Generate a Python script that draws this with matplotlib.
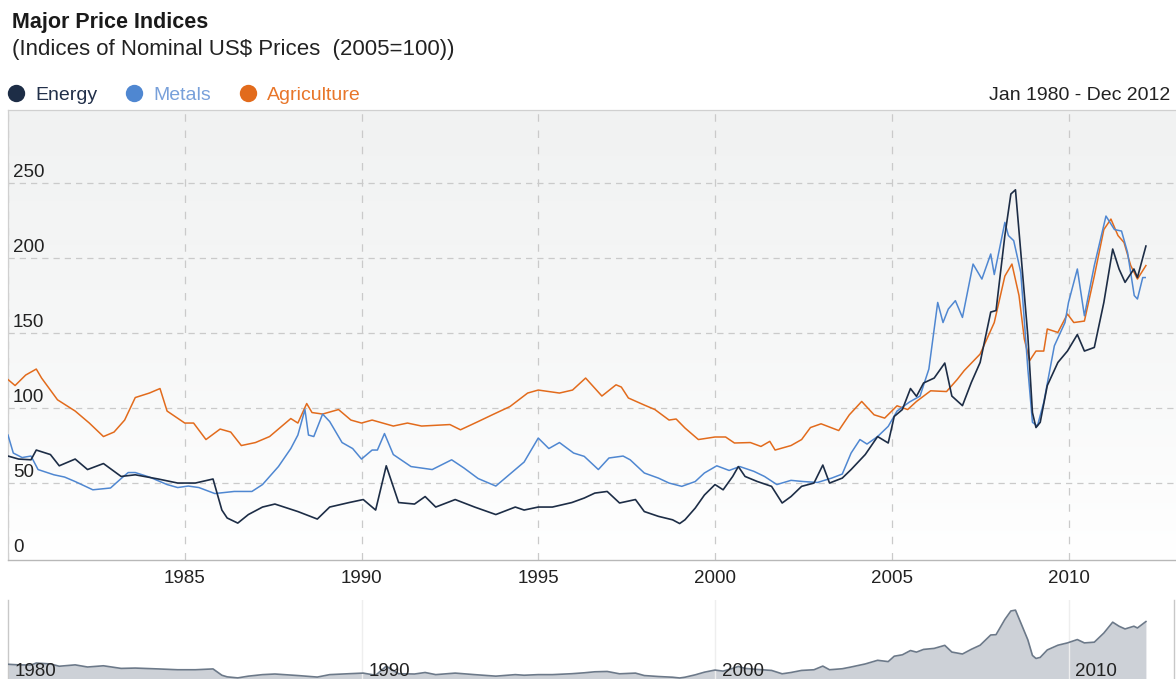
import numpy as np
import matplotlib
matplotlib.use('Agg')
import matplotlib.pyplot as plt
from matplotlib.colors import LinearSegmentedColormap

plt.rcParams['font.family'] = ['Liberation Sans', 'DejaVu Sans']

# Index values (2005=100), time as decimal year
energy_t = [1980.0, 1980.3, 1980.65, 1980.8, 1981.2, 1981.45, 1981.9, 1982.25, 1982.7, 1983.2,
            1983.6, 1984.25, 1984.8, 1985.3, 1985.8, 1986.05, 1986.2, 1986.5, 1986.8, 1987.2,
            1987.55, 1988.2, 1988.75, 1989.1, 1989.65, 1990.05, 1990.4, 1990.7, 1991.05, 1991.5,
            1991.8, 1992.1, 1992.65, 1993.2, 1993.8, 1994.35, 1994.6, 1995.0, 1995.4, 1995.95,
            1996.3, 1996.6, 1996.95, 1997.3, 1997.75, 1998.0, 1998.4, 1998.8, 1999.0, 1999.15,
            1999.44, 1999.7, 2000.0, 2000.23, 2000.5, 2000.66, 2000.85, 2001.2, 2001.6, 2001.9,
            2002.15, 2002.45, 2002.8, 2003.05, 2003.24, 2003.6, 2003.85, 2004.25, 2004.6, 2004.9,
            2005.07, 2005.3, 2005.53, 2005.7, 2005.9, 2006.2, 2006.5, 2006.7, 2007.0, 2007.25,
            2007.5, 2007.8, 2007.95, 2008.2, 2008.37, 2008.5, 2008.65, 2008.85, 2008.98, 2009.08,
            2009.2, 2009.4, 2009.7, 2009.97, 2010.25, 2010.45, 2010.73, 2011.0, 2011.25, 2011.43,
            2011.6, 2011.85, 2011.95, 2012.19]
energy_v = [68, 66, 65.5, 72, 69, 61.5, 66, 59, 63, 54.4,
            55.5, 52.7, 50, 50, 52.7, 32, 26.7, 23.3, 29, 34,
            36, 31, 26, 34, 37, 39, 32, 61.5, 37, 36,
            41, 34, 39, 34, 29, 34, 32, 34, 34, 37,
            40, 43.3, 44.4, 36.7, 39, 31, 27.8, 25.5, 23, 25.5,
            33.3, 42, 49, 45.5, 54.4, 61, 54.4, 51, 47.8, 36.7,
            41, 47.8, 50, 62, 50, 53.3, 59, 69, 81, 76.7,
            94.4, 99, 113, 107.8, 116.7, 120, 130, 108, 101.6, 117,
            130.4, 164, 165, 215, 242.7, 245.5, 204, 148, 97, 87,
            90.5, 115, 130.4, 138, 149, 138, 140.4, 170.4, 206, 192.7,
            183.8, 192.7, 187, 208]

metals_t = [1980.0, 1980.15, 1980.4, 1980.65, 1980.85, 1981.3, 1981.6, 1981.9, 1982.4, 1982.9,
            1983.2, 1983.4, 1983.6, 1984.0, 1984.5, 1984.8, 1985.1, 1985.4, 1985.85, 1986.4,
            1986.9, 1987.2, 1987.65, 1988.0, 1988.2, 1988.4, 1988.5, 1988.65, 1988.9, 1989.1,
            1989.45, 1989.75, 1990.0, 1990.3, 1990.45, 1990.65, 1990.9, 1991.4, 1992.0, 1992.55,
            1992.9, 1993.3, 1993.8, 1994.35, 1994.6, 1995.0, 1995.3, 1995.6, 1996.0, 1996.3,
            1996.7, 1997.0, 1997.4, 1997.6, 1998.0, 1998.4, 1998.7, 1999.06, 1999.44, 1999.7,
            2000.05, 2000.4, 2000.7, 2001.1, 2001.4, 2001.75, 2002.15, 2002.5, 2002.9, 2003.3,
            2003.6, 2003.85, 2004.1, 2004.3, 2004.6, 2004.9, 2005.15, 2005.5, 2005.8, 2006.05,
            2006.3, 2006.45, 2006.6, 2006.8, 2007.0, 2007.3, 2007.55, 2007.8, 2007.9, 2008.2,
            2008.3, 2008.45, 2008.65, 2008.85, 2008.98, 2009.12, 2009.3, 2009.6, 2009.9, 2010.0,
            2010.25, 2010.45, 2010.73, 2011.06, 2011.3, 2011.5, 2011.67, 2011.86, 2011.95, 2012.1,
            2012.17]
metals_v = [82, 70, 67, 68, 59, 55.5, 54, 51, 45.5, 46.7,
            53, 57, 57, 54, 49, 47, 48, 47, 43, 44.4,
            44.4, 49, 61, 73, 82, 99, 82, 81, 96, 91,
            77, 73, 66, 72, 72, 83, 69, 61, 59, 65.5,
            60, 53, 48, 59, 64, 80, 73, 77, 70, 67.8,
            59, 66.7, 68, 65.5, 56.7, 53.3, 50, 47.8, 51, 56.7,
            61.5, 58.4, 61, 57.8, 54.4, 49, 51.8, 51, 50.4, 53.3,
            56, 70, 79, 76, 81, 87.8, 98, 104, 108, 126,
            170.4, 157, 166, 171.6, 160.4, 196, 186, 202.7, 189, 223.8,
            215, 211.6, 190.4, 126, 90.5, 88, 103.8, 141.5, 157, 170.4,
            192.7, 161.5, 195, 228, 219, 218, 203.8, 175, 172.7, 187,
            187]

agri_t = [1980.0, 1980.2, 1980.5, 1980.8, 1980.95, 1981.4, 1981.9, 1982.3, 1982.7, 1983.0,
          1983.3, 1983.6, 1984.0, 1984.3, 1984.5, 1985.0, 1985.25, 1985.6, 1986.0, 1986.3,
          1986.6, 1987.0, 1987.4, 1988.0, 1988.2, 1988.45, 1988.6, 1988.9, 1989.35, 1989.7,
          1990.0, 1990.3, 1990.9, 1991.3, 1991.7, 1992.5, 1992.8, 1993.3, 1993.7, 1994.2,
          1994.7, 1995.0, 1995.6, 1995.97, 1996.34, 1996.8, 1997.2, 1997.35, 1997.55, 1998.0,
          1998.3, 1998.7, 1998.9, 1999.15, 1999.53, 2000.0, 2000.3, 2000.55, 2001.0, 2001.3,
          2001.55, 2001.7, 2002.15, 2002.45, 2002.7, 2003.0, 2003.5, 2003.8, 2004.15, 2004.5,
          2004.8, 2005.15, 2005.45, 2005.7, 2006.1, 2006.55, 2006.85, 2007.05, 2007.5, 2007.9,
          2008.2, 2008.4, 2008.6, 2008.75, 2008.9, 2009.08, 2009.3, 2009.4, 2009.7, 2009.97,
          2010.15, 2010.45, 2010.73, 2011.0, 2011.2, 2011.4, 2011.57, 2011.76, 2011.95, 2012.19]
agri_v = [119, 115, 122, 126, 120, 105.5, 98, 90, 81, 84,
          92, 107, 110, 113, 98, 90, 90, 79, 86, 84,
          75, 77, 81, 93, 90, 103, 97, 96, 99, 92,
          90, 92, 88, 90, 88, 89, 85.5, 91, 95.5, 101,
          110, 112, 110, 112, 120, 108, 115.5, 114, 106.7, 102,
          99, 92, 92.7, 86.7, 79, 80.7, 80.7, 76.7, 77, 74.4,
          77.8, 72, 75, 79, 87, 89.5, 85, 95.5, 104.4, 95.5,
          93.3, 101.5, 99, 104.4, 111.5, 111, 119, 125, 136, 157,
          188, 196, 175, 146, 131.6, 138, 138, 152.7, 150.4, 162.7,
          157, 158, 188, 219, 226, 215, 210.4, 195, 186, 195]

year_ticks = [1985, 1990, 1995, 2000, 2005, 2010]
value_ticks = [0, 50, 100, 150, 200, 250]
nav_years = [1980, 1990, 2000, 2010]

series_names = ['Energy', 'Metals', 'Agriculture']
line_colors = ['#1d2d46', '#4f87d1', '#e26b1c']
legend_text_colors = ['#22304a', '#78a0da', '#e8762a']

# figure is laid out in pixels to match the 1176x679 screenshot
W, H = 1176, 679
px_per_year = 35.35
fig = plt.figure(figsize=(W / 100, H / 100), dpi=100)


def box(left, top, right, bottom):
    return [left / W, 1 - bottom / H, (right - left) / W, (bottom - top) / H]


# header: title, legend and date range drawn in pixel coordinates
hdr = fig.add_axes([0, 0, 1, 1])
hdr.set_xlim(0, W)
hdr.set_ylim(H, 0)
hdr.axis('off')
hdr.text(12, 28, 'Major Price Indices', fontsize=15.5, fontweight='bold', color='#1a1a1a', va='baseline')
hdr.text(12, 55, '(Indices of Nominal US$ Prices  (2005=100))', fontsize=16, color='#222222', va='baseline')
for cx, tx, name, c, tc in zip([16, 134, 247.5], [35, 153, 267], series_names, line_colors, legend_text_colors):
    hdr.plot([cx], [92.5], 'o', ms=12.5, color=c, mec='none')
    hdr.text(tx, 100, name, fontsize=14, color=tc, va='baseline')
hdr.text(1170, 100, 'Jan 1980 - Dec 2012', fontsize=14, color='#222222', va='baseline', ha='right')

# main chart
ax = fig.add_axes(box(8, 110, 1176, 560))
x0, x1 = 1980, 1980 + 1168 / px_per_year
y0, y1 = -1.3, 298.7

grad = LinearSegmentedColormap.from_list('bg', ['#f1f2f2', '#f6f7f7', '#ffffff'])
ax.imshow(np.linspace(0, 1, 256).reshape(-1, 1), cmap=grad, aspect='auto',
          extent=[x0, x1, y0, y1], origin='upper', zorder=0)

ax.plot(energy_t, energy_v, color=line_colors[0], lw=1.2, zorder=5)
ax.plot(metals_t, metals_v, color=line_colors[1], lw=1.1, zorder=4)
ax.plot(agri_t, agri_v, color=line_colors[2], lw=1.1, zorder=3)

ax.set_xlim(x0, x1)
ax.set_ylim(y0, y1)

for v in value_ticks[1:]:
    ax.axhline(v, color='#cacaca', lw=0.9, ls=(0, (5, 4)), zorder=1)
for yr in [1980] + year_ticks:
    ax.axvline(yr, color='#cacaca', lw=0.9, ls=(0, (6, 7)), zorder=1)

ax.set_yticks([])
for v in value_ticks:
    ax.annotate(str(v), xy=(0, v), xycoords=('axes fraction', 'data'), xytext=(3.6, 4.3),
                textcoords='offset points', fontsize=13.5, color='#222222', va='baseline', zorder=6)

ax.set_xticks(year_ticks)
ax.set_xticklabels([str(y) for y in year_ticks])
ax.tick_params(axis='x', length=0, pad=7, labelsize=13.5, labelcolor='#222222')

for side in ['top', 'left']:
    ax.spines[side].set_color('#d0d0d0')
    ax.spines[side].set_linewidth(0.9)
ax.spines['right'].set_visible(False)
ax.spines['bottom'].set_color('#b8b8b8')
ax.spines['bottom'].set_linewidth(1.0)

# navigator strip at the bottom (partly cut off by the image edge)
nav = fig.add_axes(box(8, 600, 1174, 685))
nav.fill_between(energy_t, energy_v, 0, color='#cdd1d7', lw=0, zorder=1)
nav.plot(energy_t, energy_v, color='#6c7989', lw=1.2, zorder=3)
nav.set_xlim(1980, 1980 + 1166 / px_per_year)
nav.set_ylim(0, 278.7)
for yr in nav_years[1:]:
    nav.axvline(yr, color='#eeeeee', lw=1.0, zorder=2)
for yr in nav_years:
    nav.annotate(str(yr), xy=(yr, 9 / 85), xycoords=('data', 'axes fraction'), xytext=(5, 0),
                 textcoords='offset points', fontsize=13.5, color='#222222', va='baseline', zorder=4)
nav.set_xticks([])
nav.set_yticks([])
nav.spines['top'].set_visible(False)
nav.spines['bottom'].set_visible(False)
for side in ['left', 'right']:
    nav.spines[side].set_color('#c8c8c8')
    nav.spines[side].set_linewidth(1.0)

fig.savefig('out.png', dpi=100, facecolor='white')
